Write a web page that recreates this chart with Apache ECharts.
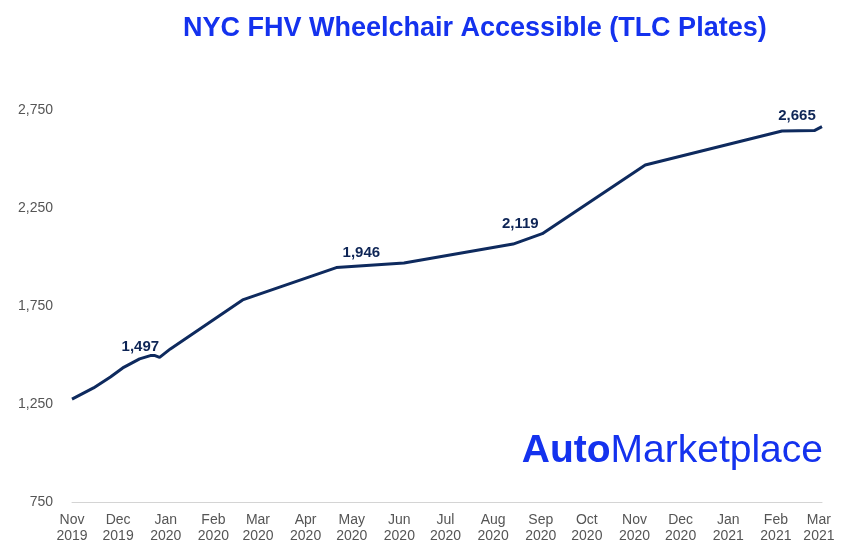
<!DOCTYPE html>
<html>
<head>
<meta charset="utf-8">
<script src="https://cdn.jsdelivr.net/npm/echarts@6/dist/echarts.min.js"></script>
<style>
html,body{margin:0;padding:0;background:#fff;}
#chart{width:841px;height:557px;}
</style>
</head>
<body>
<div id="chart"></div>
<script>
const titleText = 'NYC FHV Wheelchair Accessible (TLC Plates)';
const startDate = '2019-11-01';
const monthDates = ['2019-11-01','2019-12-01','2020-01-01','2020-02-01','2020-03-01','2020-04-01','2020-05-01','2020-06-01','2020-07-01','2020-08-01','2020-09-01','2020-10-01','2020-11-01','2020-12-01','2021-01-01','2021-02-01','2021-03-01'];
const monthLabels = ['Nov\n2019','Dec\n2019','Jan\n2020','Feb\n2020','Mar\n2020','Apr\n2020','May\n2020','Jun\n2020','Jul\n2020','Aug\n2020','Sep\n2020','Oct\n2020','Nov\n2020','Dec\n2020','Jan\n2021','Feb\n2021','Mar\n2021'];
const pointDates = ['2019-11-01','2019-11-15','2019-11-26','2019-12-04','2019-12-15','2019-12-22','2019-12-25','2019-12-28','2020-01-04','2020-02-20','2020-04-21','2020-06-04','2020-08-14','2020-09-02','2020-11-08','2021-02-05','2021-02-26','2021-03-03'];
const pointValues = [1275,1332,1388,1434,1480,1497,1497,1488,1531,1781,1946,1969,2066,2119,2469,2643,2645,2665];
const labeledDates = ['2019-12-22','2020-04-21','2020-09-02','2021-03-03'];
const labelOffsets = [[-10,-1],[25,-7],[-22,-2],[-25,-3]];
const yTickValues = [750,1250,1750,2250,2750];

const DAY = 86400000;
const dayOf = s => (Date.parse(s) - Date.parse(startDate)) / DAY;
const monthDays = monthDates.map(dayOf);
const fmt = v => v.toLocaleString('en-US');

const seriesData = pointDates.map((d, i) => {
  const li = labeledDates.indexOf(d);
  const item = { value: [dayOf(d), pointValues[i]] };
  if (li >= 0) {
    item.label = {
      show: true,
      position: 'top',
      distance: 0,
      offset: labelOffsets[li],
      formatter: fmt(pointValues[i]),
      fontFamily: 'Liberation Sans, Arial, sans-serif',
      fontWeight: 'bold',
      fontSize: 15,
      color: '#0e2556'
    };
  }
  return item;
});

const chart = echarts.init(document.getElementById('chart'), null, { renderer: 'canvas' });
chart.setOption({
  animation: false,
  backgroundColor: '#ffffff',
  title: {
    text: titleText,
    left: 178,
    top: 10,
    textStyle: {
      fontFamily: 'Liberation Sans, Arial, sans-serif',
      fontWeight: 'bold',
      fontSize: 27,
      color: '#1432ee'
    }
  },
  grid: { left: 72, right: 19, top: 110, bottom: 55, containLabel: false },
  xAxis: {
    type: 'value',
    min: 0,
    max: dayOf(pointDates[pointDates.length - 1]),
    splitLine: { show: false },
    axisTick: { show: false },
    axisLine: { show: true, lineStyle: { color: '#d4d4d4', width: 1 } },
    axisLabel: {
      customValues: monthDays,
      formatter: v => { const i = monthDays.indexOf(v); return i >= 0 ? monthLabels[i] : ''; },
      margin: 10,
      fontFamily: 'Liberation Sans, Arial, sans-serif',
      fontSize: 14,
      lineHeight: 16,
      color: '#555555',
      align: 'center'
    }
  },
  yAxis: {
    type: 'value',
    min: 750,
    max: 2750,
    interval: 250,
    splitLine: { show: false },
    axisTick: { show: false },
    axisLine: { show: false },
    axisLabel: {
      customValues: yTickValues,
      formatter: v => fmt(v),
      margin: 19,
      fontFamily: 'Liberation Sans, Arial, sans-serif',
      fontSize: 14,
      color: '#555555'
    }
  },
  graphic: [{
    type: 'text',
    right: 18,
    top: 432,
    style: {
      text: '{a|Auto}{b|Marketplace}',
      rich: {
        a: { fontFamily: 'Liberation Sans, Arial, sans-serif', fontWeight: 'bold', fontSize: 39, fill: '#1432ee' },
        b: { fontFamily: 'Liberation Sans, Arial, sans-serif', fontWeight: 'normal', fontSize: 39, fill: '#1432ee' }
      }
    }
  }],
  series: [{
    type: 'line',
    data: seriesData,
    showSymbol: true,
    symbol: 'circle',
    symbolSize: 0,
    lineStyle: { color: '#0e2a5e', width: 3 },
    itemStyle: { color: '#0e2a5e' },
    label: { show: false },
    emphasis: { disabled: true },
    z: 3
  }]
});
</script>
</body>
</html>
